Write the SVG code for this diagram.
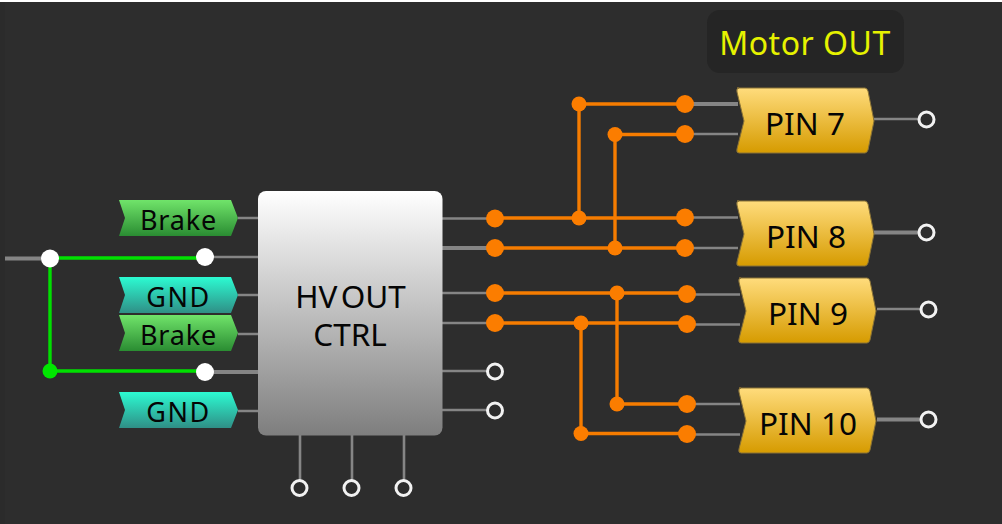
<svg xmlns="http://www.w3.org/2000/svg" width="1002" height="524" viewBox="0 0 1002 524">
<style>
text{font-family:"Noto Sans","Open Sans","Liberation Sans",sans-serif;text-anchor:middle;fill:#050505}
.lbl{font-size:27px}
.brk{letter-spacing:.8px}
.gnd{letter-spacing:1.5px}
.pin{font-size:31.5px}
.blk{font-size:31.500px;word-spacing:-5px}
.g{fill:none;stroke:#858585;stroke-width:2.6}
.gt{fill:none;stroke:#858585;stroke-width:4}
.o{fill:none;stroke:#f67c00;stroke-width:3.4}
.n{fill:none;stroke:#00e000;stroke-width:3.4}
.dot{fill:#fb7d00}
.ring{fill:#2d2d2d;stroke:#f2f2f2;stroke-width:3}
.w{fill:#fff}
.pinshape{fill:url(#am);stroke:#8a7336;stroke-width:1}
</style>
<defs>
<linearGradient id="am" x1="0" y1="0" x2="0" y2="1"><stop offset="0" stop-color="#ffdc7c"/><stop offset="1" stop-color="#d69b00"/></linearGradient>
<linearGradient id="gr" x1="0" y1="0" x2="0" y2="1"><stop offset="0" stop-color="#70e46a"/><stop offset="1" stop-color="#2a8c32"/></linearGradient>
<linearGradient id="te" x1="0" y1="0" x2="0" y2="1"><stop offset="0" stop-color="#2cfbd2"/><stop offset="1" stop-color="#2f8f86"/></linearGradient>
<linearGradient id="bk" x1="0" y1="0" x2="0" y2="1"><stop offset="0" stop-color="#ffffff"/><stop offset="1" stop-color="#7e7e7e"/></linearGradient>
<path id="tag" d="M0 0H112L119 18L112 36H0L6 18Z"/>
<path id="pinp" d="M0 0H128Q130 0 131 3L137 33L131 62Q130 65 128 65H2Q-1 65 0 61L7 33L0 4Q-1 0 2 0Z"/>
</defs>
<rect width="1002" height="524" fill="#fff"/>
<rect x="5" y="2" width="997" height="522" fill="#2d2d2d"/>
<rect x="0" y="2" width="5" height="522" fill="#2b2b2b"/>
<g id="connectors">
<path class="g" d="M205 257H258M238 218H258M238 295H258M238 334H258M238 411H258"/>
<path class="gt" d="M5 258.500H50M205 372H258"/>
<path class="g" d="M442 218.500H495M442 293H495M442 323H495M442 371H495M442 410H495"/>
<path class="gt" d="M442 248H495"/>
<path class="g" d="M300 435V488M352 435V488M404 435V488"/>
<path class="g" d="M685 134H738M685 217.500H738M685 248H738M687 294.500H740M687 324.500H740M687 404H740M687 434.500H740"/>
<path class="gt" d="M685 104H738"/>
<path class="g" d="M874 119H927M877 309H929"/>
<path class="gt" d="M874 232.500H927M877 419.500H929"/>
<path class="n" d="M50 258V371M50 258H205M50 371H205"/>
<path class="o" d="M495 218H685M495 248H685M579 104H685M615 134.500H685M579 104V218M615 134V248"/>
<path class="o" d="M495 293H687M495 323H687M617 404H687M581 433.500H687M617 293V404M581 323V433"/>
</g>
<g id="net-dots">
<circle class="w" cx="50" cy="258.500" r="9"/><circle class="w" cx="205" cy="257" r="9"/><circle class="w" cx="205" cy="372" r="9"/>
<circle cx="50" cy="371" r="7.500" fill="#00e600"/>
<g class="dot">
<circle cx="495" cy="218.500" r="9"/><circle cx="495" cy="248" r="9"/><circle cx="495" cy="293" r="9"/><circle cx="495" cy="323" r="9"/>
<circle cx="685" cy="104" r="9"/><circle cx="685" cy="134" r="9"/><circle cx="685" cy="217.500" r="9"/><circle cx="685" cy="248" r="9"/>
<circle cx="687" cy="294" r="9"/><circle cx="687" cy="324" r="9"/><circle cx="687" cy="404" r="9"/><circle cx="687" cy="434" r="9"/>
<circle cx="579" cy="104" r="7.500"/><circle cx="615" cy="134.500" r="7.500"/><circle cx="579" cy="218" r="7.500"/><circle cx="615" cy="248" r="7.500"/>
<circle cx="617" cy="293" r="7.500"/><circle cx="581" cy="323" r="7.500"/><circle cx="617" cy="404" r="7.500"/><circle cx="581" cy="433.500" r="7.500"/>
</g>
<g>
<circle class="ring" cx="495" cy="371.500" r="7.500"/><circle class="ring" cx="495" cy="410.500" r="7.500"/>
<circle class="ring" cx="299.500" cy="488" r="7.500"/><circle class="ring" cx="351.500" cy="488" r="7.500"/><circle class="ring" cx="403.500" cy="488" r="7.500"/>
<circle class="ring" cx="926.500" cy="119.500" r="7.500"/><circle class="ring" cx="926.500" cy="232.500" r="7.500"/><circle class="ring" cx="928.500" cy="309.500" r="7.500"/><circle class="ring" cx="928.500" cy="419.500" r="7.500"/>
</g>
</g>
<g id="motor-out"><rect x="707" y="10" width="197" height="63" rx="13" fill="#252525"/><text x="805" y="55" font-size="32" letter-spacing=".5" style="fill:#e6f200">Motor OUT</text></g>
<g id="hv-out-ctrl"><rect x="258" y="191" width="184.500" height="244.500" rx="8" fill="url(#bk)"/><text class="blk"><tspan x="350.500" y="308">HV OUT</tspan><tspan x="350" y="346">CTRL</tspan></text></g>
<g id="brake-1"><use href="#tag" x="119" y="200" fill="url(#gr)"/><text class="lbl brk" x="178.500" y="230">Brake</text></g>
<g id="gnd-1"><use href="#tag" x="119" y="277" fill="url(#te)"/><text class="lbl gnd" x="178.500" y="307">GND</text></g>
<g id="brake-2"><use href="#tag" x="119" y="315" fill="url(#gr)"/><text class="lbl brk" x="178.500" y="345">Brake</text></g>
<g id="gnd-2"><use href="#tag" x="119" y="392" fill="url(#te)"/><text class="lbl gnd" x="178.500" y="422">GND</text></g>
<g id="pin-7"><use href="#pinp" x="737" y="88" class="pinshape"/><text class="pin" x="805" y="135">PIN 7</text></g>
<g id="pin-8"><use href="#pinp" x="737" y="201" class="pinshape"/><text class="pin" x="806" y="248">PIN 8</text></g>
<g id="pin-9"><use href="#pinp" x="739" y="278" class="pinshape"/><text class="pin" x="808" y="325">PIN 9</text></g>
<g id="pin-10"><use href="#pinp" x="739" y="388" class="pinshape"/><text class="pin" x="808" y="435">PIN 10</text></g>
</svg>
